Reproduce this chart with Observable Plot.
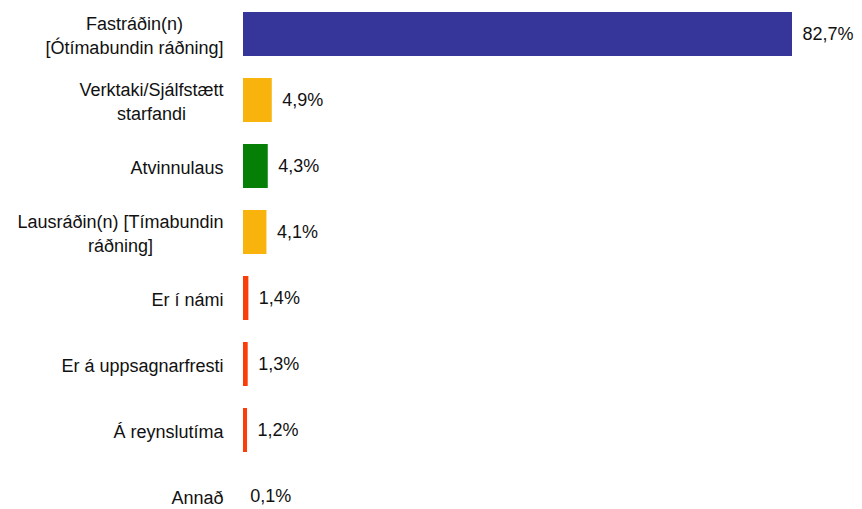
<!DOCTYPE html>
<html>
<head>
<meta charset="utf-8">
<script src="https://cdn.jsdelivr.net/npm/d3@7"></script>
<script src="https://cdn.jsdelivr.net/npm/@observablehq/plot@0.6"></script>
<style>
  html, body { margin: 0; padding: 0; background: #fff; }
  #chart svg { display: block; }
</style>
</head>
<body>
<div id="chart"></div>
<script>
const categories = [
  "Fastráðin(n)\n[Ótímabundin ráðning]",
  "Verktaki/Sjálfstætt\nstarfandi",
  "Atvinnulaus",
  "Lausráðin(n) [Tímabundin\nráðning]",
  "Er í námi",
  "Er á uppsagnarfresti",
  "Á reynslutíma",
  "Annað"
];
const values = [82.7, 4.9, 4.3, 4.1, 1.4, 1.3, 1.2, 0.1];
const colors = ["#35359A", "#F8B40C", "#067F06", "#F8B40C", "#FA3E0A", "#FA3E0A", "#FA3E0A", "#FA3E0A"];

const data = categories.map((c, i) => ({ cat: c, value: values[i], color: colors[i] }));
const fmt = v => v.toFixed(1).replace(".", ",") + "%";

const chart = Plot.plot({
  width: 862,
  height: 509,
  marginLeft: 243,
  marginRight: 70,
  marginTop: 0,
  marginBottom: 0,
  style: { fontFamily: "'Liberation Sans', Arial, sans-serif", fontSize: "18px", color: "#111" },
  x: { domain: [0, 82.7], range: [239, 792], axis: null },
  y: { domain: categories, range: [0.5, 528.5], paddingInner: 0.34, paddingOuter: 0.17, axis: null },
  marks: [
    Plot.barX(data, { y: "cat", x: "value", fill: d => d.color, insetLeft: 4 }),
    Plot.text(data, {
      y: "cat", x: "value", text: d => fmt(d.value),
      textAnchor: "start", dx: 10, fontSize: 18, fill: "#111"
    }),
    Plot.text(data, {
      y: "cat", text: "cat", frameAnchor: "left", textAnchor: "end",
      dx: -20, fontSize: 18, lineHeight: 1.33, fill: "#111", className: "catlabel"
    })
  ]
});
document.getElementById("chart").appendChild(chart);

// center-align the lines of multi-line labels within their right-aligned block
chart.querySelectorAll("g.catlabel text, .catlabel text").forEach(t => {
  const spans = t.querySelectorAll("tspan");
  if (spans.length < 2) return;
  const w = Math.max(...Array.from(spans, s => s.getComputedTextLength()));
  t.setAttribute("text-anchor", "middle");
  spans.forEach(s => s.setAttribute("x", -w / 2));
});
</script>
</body>
</html>
